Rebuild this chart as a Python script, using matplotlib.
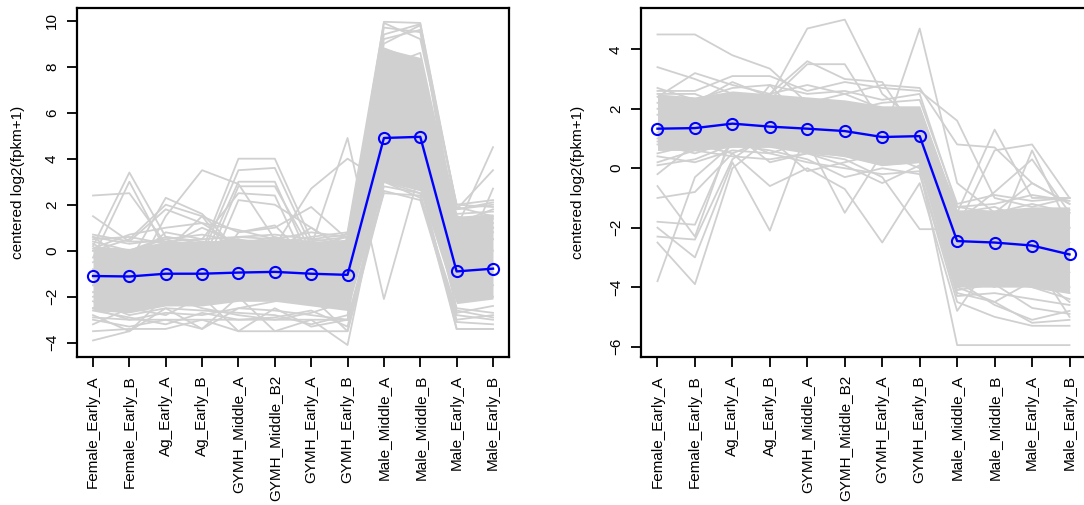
import matplotlib.pyplot as plt
import numpy as np

plt.rcParams['font.family'] = ['Liberation Sans', 'DejaVu Sans']

samples = ["Female_Early_A", "Female_Early_B", "Ag_Early_A", "Ag_Early_B",
           "GYMH_Middle_A", "GYMH_Middle_B2", "GYMH_Early_A", "GYMH_Early_B",
           "Male_Middle_A", "Male_Middle_B", "Male_Early_A", "Male_Early_B"]

# cluster 1 (left panel)
mean_left = [-1.1, -1.12, -1.0, -1.0, -0.95, -0.92, -1.0, -1.05, 4.9, 4.95, -0.9, -0.78]
core_lo_left = [-2.6, -2.7, -2.4, -2.4, -2.2, -2.2, -2.4, -2.6, 3.0, 2.6, -2.3, -2.1]
core_hi_left = [0.2, 0.1, 0.4, 0.4, 0.5, 0.5, 0.4, 0.5, 8.8, 8.4, 1.5, 1.6]
genes_left = [
    [2.4, 2.5, 0.3, -0.5, -1.0, -1.2, -1.5, -1.0, 4.5, 4.0, -1.5, -1.0],
    [1.5, 0.4, 1.8, 1.2, 0.2, 0.5, 0.0, 0.3, 6.0, 5.5, 0.5, 0.8],
    [0.2, 3.4, 0.6, 0.3, 0.5, 0.2, -0.5, 0.5, 7.5, 7.0, 1.5, 1.0],
    [-0.3, 3.0, 0.0, 1.5, -0.5, 0.0, 1.0, 0.0, 5.0, 4.5, 0.0, 0.5],
    [0.6, -0.5, 2.3, 1.6, 0.0, -0.5, 0.5, -1.0, 3.5, 3.2, -2.0, -1.5],
    [0.0, 0.5, 2.0, 1.5, 0.8, 1.0, 1.9, 0.5, 8.5, 8.0, 1.8, 2.0],
    [-1.0, -1.5, 1.5, 3.5, 2.9, 0.5, 0.0, 0.0, 6.5, 6.0, 1.0, 1.2],
    [-0.5, 0.0, 0.5, 0.0, 4.0, 4.0, 0.5, 0.3, 9.95, 9.9, 1.9, 1.5],
    [-1.2, -1.0, 0.0, -0.2, 3.5, 3.6, 0.2, 0.6, 9.7, 9.5, 2.0, 2.2],
    [-2.0, -1.5, -1.0, -0.5, 3.0, 3.0, -0.5, 0.0, 9.2, 9.6, 1.2, 1.8],
    [-1.5, -2.0, -0.5, -1.0, 2.8, 2.8, 0.0, -0.5, 8.8, 8.2, 1.5, 1.0],
    [0.3, -0.5, 0.8, 0.5, 2.5, 2.4, -1.0, 0.5, 7.2, 7.5, 0.8, 0.5],
    [-2.5, -2.0, -1.5, -1.5, 2.2, 2.0, 1.0, 0.0, 5.5, 5.8, -0.5, 0.0],
    [-0.8, -1.2, 0.2, 1.0, 0.3, 0.2, 2.7, 4.0, 3.0, 2.5, 0.5, 0.8],
    [0.0, -0.5, -0.2, 0.2, 0.5, -1.0, 0.2, 4.9, -2.1, 3.5, 1.0, 4.5],
    [-1.5, -1.0, -2.0, -1.5, 0.8, 1.1, -0.5, 0.8, 4.0, 3.0, 1.8, 3.5],
    [-1.8, -1.6, -1.2, -1.5, -1.5, -1.5, -1.5, -1.8, 3.2, 3.4, -1.0, 2.7],
    [-3.9, -3.5, -2.5, -3.4, -2.0, -3.5, -3.5, -3.5, 2.8, 2.5, -3.4, -3.4],
    [-3.5, -3.4, -3.4, -3.0, -3.5, -3.5, -3.0, -4.1, 3.5, 2.8, -3.1, -3.2],
    [-3.0, -3.3, -3.0, -3.0, -3.0, -3.0, -3.0, -3.0, 3.0, 2.3, -2.8, -3.0],
    [-2.8, -3.5, -2.0, -2.5, -2.8, -3.0, -2.7, -2.2, 4.2, 3.8, -2.5, -2.7],
    [-3.2, -2.5, -2.8, -2.0, -3.5, -2.5, -3.3, -3.0, 6.8, 6.0, -2.7, -2.4],
    [-2.5, -3.0, -3.0, -3.4, -2.5, -2.2, -2.0, -3.5, 2.6, 2.2, -3.0, -2.8],
    [-2.2, -2.8, -2.5, -2.6, -2.7, -2.8, -3.2, -2.8, 7.8, 7.2, -2.2, -2.0],
    [0.5, 0.6, 0.3, 0.2, 0.6, 0.5, 0.4, 0.6, 5.2, 4.8, 1.6, 1.7],
    [0.4, 0.0, 0.6, 0.4, 0.3, 0.6, 0.2, 0.4, 9.0, 9.8, 0.5, 1.0],
    [0.6, 0.3, 0.5, 0.7, 0.4, 0.3, 0.6, 0.8, 9.9, 9.2, 2.0, 1.9],
    [0.7, 0.4, 0.4, 0.5, 0.6, 0.7, 0.5, 0.7, 9.4, 9.85, 1.8, 2.1],
    [-2.9, -3.0, -2.7, -2.8, -2.5, -2.6, -2.8, -3.0, 2.5, 2.4, -2.6, -2.9],
    [-2.6, -2.9, -3.2, -2.7, -3.0, -2.9, -2.6, -3.3, 3.3, 3.0, -3.4, -3.4],
    [0.1, 0.7, 1.0, 1.2, 0.9, 0.5, 0.8, 0.6, 8.0, 8.6, 1.3, 1.4],
]

# cluster 2 (right panel)
mean_right = [1.33, 1.35, 1.5, 1.4, 1.33, 1.25, 1.05, 1.08, -2.45, -2.5, -2.6, -2.9]
core_lo_right = [0.6, 0.6, 0.7, 0.7, 0.5, 0.4, 0.1, 0.2, -4.0, -4.0, -4.0, -4.2]
core_hi_right = [2.5, 2.4, 2.6, 2.5, 2.4, 2.3, 2.1, 2.1, -1.4, -1.4, -1.3, -1.3]
genes_right = [
    [4.5, 4.5, 3.8, 3.35, 2.2, 2.5, 2.0, 1.8, -1.5, -2.0, -1.8, -2.0],
    [3.4, 3.0, 2.5, 2.2, 2.0, 1.8, 1.5, 1.6, -1.3, -1.5, -1.2, -1.5],
    [2.6, 2.6, 3.1, 3.1, 2.6, 2.9, 2.7, 2.6, 1.6, -1.0, -1.3, -1.0],
    [2.4, 3.2, 2.8, 2.5, 2.8, 2.5, 2.8, 2.7, 0.8, 0.7, -0.5, -1.2],
    [2.2, 2.2, 2.9, 2.4, 4.7, 5.0, 2.5, 1.5, -1.5, 1.3, -1.0, -1.0],
    [1.5, 1.8, 2.0, 2.5, 3.6, 3.0, 2.9, 1.0, -2.0, 0.6, 0.8, -1.0],
    [1.8, 2.0, 2.2, 2.3, 3.5, 3.5, 1.5, 2.0, -1.8, -0.8, 0.3, -1.5],
    [1.0, 1.5, 1.2, 2.8, 1.5, 0.5, 1.0, 4.7, -0.5, -1.5, -0.5, -1.2],
    [-3.8, -0.3, 0.8, 1.5, 1.5, 1.2, 1.0, 1.5, -2.0, -2.5, 0.6, -2.0],
    [-2.5, -3.9, 0.0, 1.0, 1.2, 1.0, 0.5, 1.0, -2.5, -3.0, -2.0, -3.5],
    [-2.3, -2.4, 0.3, 1.2, 1.0, 0.8, 0.2, 0.5, -3.0, -2.2, -1.5, -2.5],
    [-2.0, -3.0, 0.2, -2.1, 1.3, 1.0, 0.8, 0.3, -4.0, -4.5, -3.8, -4.0],
    [-1.8, -1.9, 1.0, 0.5, 0.9, -1.5, 0.5, 0.8, -3.5, -4.0, -3.0, -5.0],
    [-1.0, -0.8, 0.5, -0.6, 0.0, -0.7, -2.5, -0.5, -4.8, -3.0, -3.5, -4.5],
    [-0.6, -2.3, 1.2, 0.2, 0.5, 0.3, -0.3, -2.05, -2.05, -3.5, -4.0, -4.2],
    [-0.2, 0.8, 0.5, 1.0, -0.1, 0.2, 0.5, 0.0, -5.95, -5.95, -5.95, -5.95],
    [0.1, 0.3, 0.8, 0.6, 0.3, -0.3, 0.0, -0.2, -4.5, -5.0, -5.3, -5.3],
    [0.5, 0.8, 1.0, 0.9, 0.6, 0.4, 0.1, 0.2, -4.2, -4.5, -5.2, -5.1],
    [0.8, 0.5, 0.9, 1.0, 0.7, 0.6, 0.3, 0.4, -3.8, -4.6, -5.1, -4.8],
    [2.0, 1.6, 2.4, 2.0, 1.8, 1.9, 2.2, 2.3, -1.2, -0.9, -1.1, -1.0],
    [1.2, 1.4, 1.5, 1.3, 1.4, 1.2, 1.0, 1.0, -2.5, -2.4, -2.6, -2.8],
    [2.5, 2.5, 2.0, 2.0, 2.2, 2.0, 1.8, 2.0, -1.5, -1.3, -1.8, -1.4],
    [0.9, 1.0, 1.2, 1.2, 0.8, 0.7, 0.5, 0.6, -3.6, -3.8, -4.0, -4.4],
    [2.7, 2.3, 2.7, 2.8, 2.5, 2.6, 2.3, 2.5, -1.3, -1.2, -0.9, -1.1],
    [0.4, 0.2, 0.6, 0.5, 0.2, 0.0, -0.2, -0.1, -4.3, -4.2, -4.4, -4.6],
    [0.2, 0.6, 0.4, 0.3, 0.5, 0.1, -0.5, 0.1, -4.1, -3.9, -4.7, -4.9],
]

gris = "#D0D0D0"
x = np.arange(len(samples))

fig = plt.figure(figsize=(10.84, 5.05), dpi=100)
ax1 = fig.add_axes([77 / 1084, 148 / 505, 432 / 1084, 349 / 505])
ax2 = fig.add_axes([641 / 1084, 148 / 505, 445 / 1084, 349 / 505])

paneles = [
    (ax1, genes_left, core_lo_left, core_hi_left, mean_left, (-4.62, 10.55), range(-4, 11, 2)),
    (ax2, genes_right, core_lo_right, core_hi_right, mean_right, (-6.35, 5.39), range(-6, 5, 2)),
]

for ax, genes, lo, hi, media, ylim, yt in paneles:
    # banda densa de perfiles + perfiles individuales
    ax.fill_between(x, lo, hi, color=gris, lw=0, zorder=1)
    for g in genes:
        ax.plot(x, g, color=gris, lw=1.3, zorder=2)
    # perfil promedio
    ax.plot(x, media, color="#0000FF", lw=1.7, marker="o", ms=8,
            mfc="none", mec="#0000FF", mew=1.5, zorder=3)
    ax.set_xlim(-0.44, 11.44)
    ax.set_ylim(*ylim)
    ax.set_xticks(x)
    ax.set_xticklabels(samples, rotation=90, fontsize=11)
    ax.set_yticks(list(yt))
    ax.tick_params(axis="y", labelrotation=90, labelsize=11, length=7, width=1.3, pad=6)
    ax.tick_params(axis="x", length=7, width=1.3, pad=6)
    for lbl in ax.get_yticklabels():
        lbl.set_verticalalignment("center")
    for s in ax.spines.values():
        s.set_linewidth(1.6)
    ax.set_ylabel("centered log2(fpkm+1)", fontsize=11)

ax1.yaxis.set_label_coords(-52 / 432, 0.5)
ax2.yaxis.set_label_coords(-56 / 445, 0.5)

fig.savefig("out.png", dpi=100)
